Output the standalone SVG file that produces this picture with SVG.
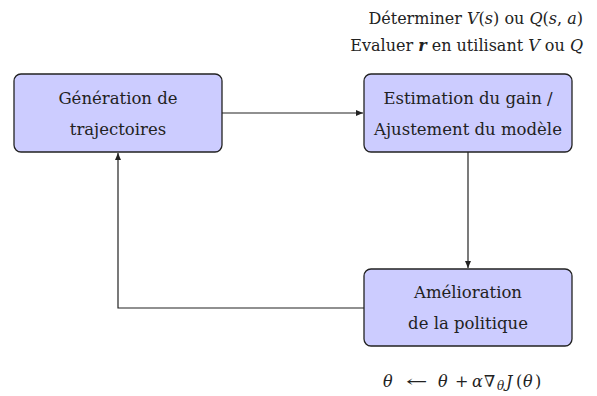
<svg xmlns="http://www.w3.org/2000/svg" width="597" height="396" viewBox="0 0 597 396" font-family="'DejaVu Serif', 'Liberation Serif', serif">
<style>
.box{fill:#ccccff;stroke:#222;stroke-width:1.3}
text{font-family:"DejaVu Serif","Liberation Serif",serif;fill:#222}
.t{font-size:16.5px;text-anchor:middle}
.m{font-size:16px}
.i{font-style:italic}
.c{fill:none;stroke:#222;stroke-width:1.2}
</style>
<defs>
<marker id="ah" markerWidth="8" markerHeight="8" refX="7" refY="4" orient="auto" markerUnits="userSpaceOnUse">
<path d="M0,1 L7,4 L0,7 Z" fill="#222"/>
</marker>
</defs>
<g id="connectors">
<path class="c" d="M222,113 H363" marker-end="url(#ah)"/>
<path class="c" d="M468,152 V268" marker-end="url(#ah)"/>
<path class="c" d="M364,308 H118 V153" marker-end="url(#ah)"/>
</g>
<g id="gen">
<rect class="box" x="14" y="74" width="208" height="78" rx="7"/>
<text class="t" x="118" y="104">Génération de</text>
<text class="t" x="118" y="135">trajectoires</text>
</g>
<g id="est">
<rect class="box" x="364" y="74" width="208" height="78" rx="7"/>
<text class="t" x="468" y="104">Estimation du gain /</text>
<text class="t" x="468" y="135">Ajustement du modèle</text>
</g>
<g id="amel">
<rect class="box" x="364" y="269" width="208" height="77" rx="7"/>
<text class="t" x="468" y="298">Amélioration</text>
<text class="t" x="468" y="329">de la politique</text>
</g>
<g id="notes">
<text class="m" x="583" y="24" text-anchor="end">Déterminer <tspan class="i">V</tspan>(<tspan class="i">s</tspan>) ou <tspan class="i">Q</tspan>(<tspan class="i">s</tspan>, <tspan class="i">a</tspan>)</text>
<text class="m" x="583" y="51" text-anchor="end">Evaluer <tspan class="i" font-weight="bold">r</tspan> en utilisant <tspan class="i">V</tspan> ou <tspan class="i">Q</tspan></text>
<text class="m" y="387" font-size="17"><tspan class="i" x="383">θ</tspan><tspan class="i" x="438">θ</tspan><tspan x="455">+</tspan><tspan class="i" x="472">α</tspan><tspan x="484">∇</tspan><tspan class="i" font-size="12" x="497" dy="3">θ</tspan><tspan class="i" x="506" dy="-3">J</tspan><tspan x="516">(</tspan><tspan class="i" x="523">θ</tspan><tspan x="535">)</tspan></text>
<text class="m" font-size="17" transform="translate(406,387) scale(1.6,1)">←</text>
</g>
</svg>
